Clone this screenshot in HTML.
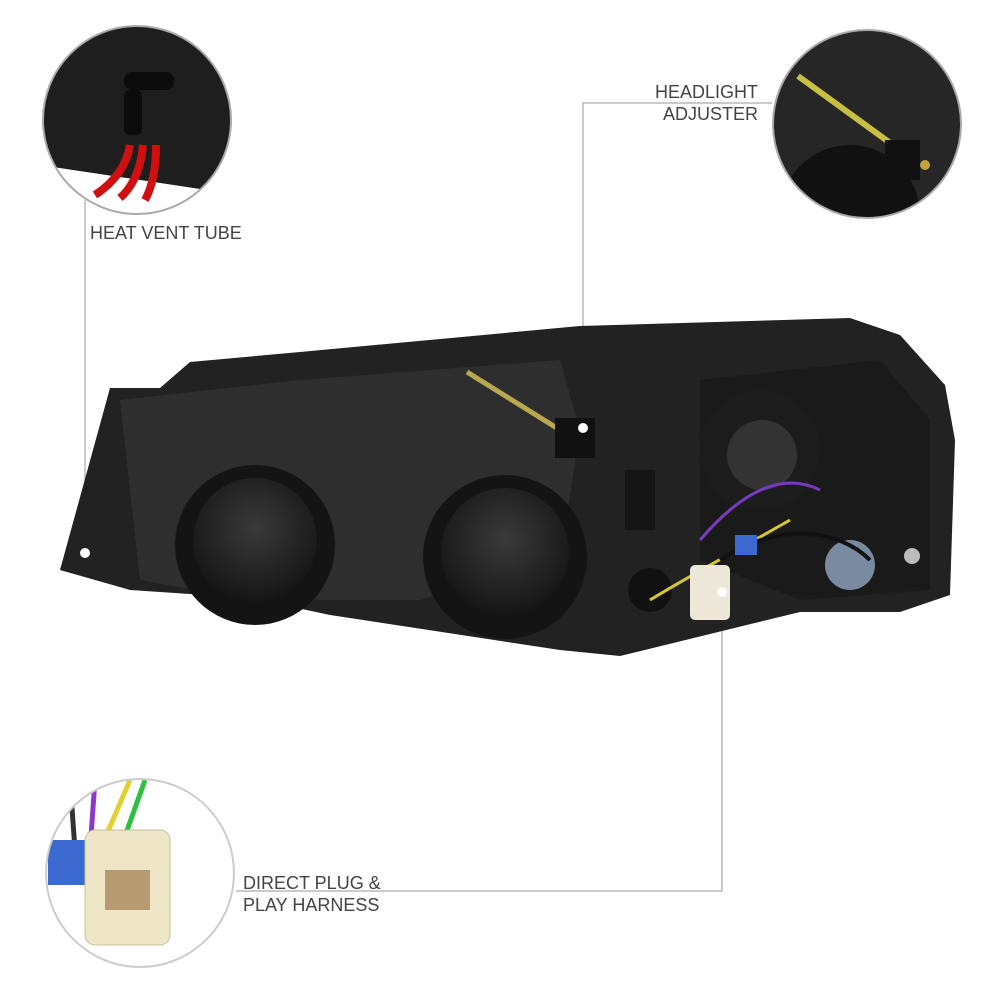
<!DOCTYPE html>
<html><head><meta charset="utf-8"><style>
body{margin:0;background:#fff;width:1000px;height:1000px;overflow:hidden;font-family:"Liberation Sans",sans-serif}
.t{position:absolute;color:#444;font-size:18px;letter-spacing:0;line-height:22px}
</style></head><body>
<svg width="1000" height="1000" style="position:absolute;left:0;top:0">
<defs>
<clipPath id="c1"><circle cx="137" cy="120" r="94"/></clipPath>
<clipPath id="c2"><circle cx="867" cy="124" r="94"/></clipPath>
<clipPath id="c3"><circle cx="140" cy="873" r="94"/></clipPath>
<radialGradient id="g" cx="50%" cy="40%" r="60%"><stop offset="0" stop-color="#3a3a3a"/><stop offset="1" stop-color="#151515"/></radialGradient>
</defs>
<g stroke="#aaa" stroke-width="1.2" fill="none">
<polyline points="85,200 85,553"/>
<polyline points="772,103 583,103 583,428"/>
<polyline points="722,592 722,891 236,891"/>
</g>
<polygon fill="#222" points="60,570 110,388 160,388 190,362 300,352 580,326 850,318 900,335 945,385 955,440 950,595 900,612 800,612 620,656 560,650 330,615 250,598 130,590"/>
<polygon fill="#2e2e2e" points="120,400 300,380 560,360 580,430 560,560 420,600 250,600 140,580"/>
<polygon fill="#1a1a1a" points="700,380 880,360 930,420 930,590 800,600 700,560"/>
<circle cx="255" cy="545" r="80" fill="#141414"/>
<circle cx="255" cy="540" r="62" fill="url(#g)"/>
<circle cx="505" cy="557" r="82" fill="#141414"/>
<circle cx="505" cy="552" r="64" fill="url(#g)"/>
<circle cx="760" cy="450" r="60" fill="#1c1c1c"/>
<circle cx="762" cy="455" r="35" fill="#333"/>
<circle cx="850" cy="565" r="25" fill="#7a8aa0"/>
<circle cx="650" cy="590" r="22" fill="#111"/>
<rect x="625" y="470" width="30" height="60" fill="#151515"/>
<line x1="467" y1="372" x2="560" y2="430" stroke="#b8a850" stroke-width="5"/>
<rect x="555" y="418" width="40" height="40" fill="#111"/>
<path d="M650 600 C700 570 720 560 790 520" stroke="#d8c830" stroke-width="3" fill="none"/>
<path d="M700 540 C760 470 800 480 820 490" stroke="#7a3ac0" stroke-width="3" fill="none"/>
<path d="M720 560 C780 520 840 530 870 560" stroke="#111" stroke-width="4" fill="none"/>
<rect x="690" y="565" width="40" height="55" rx="5" fill="#eee8d8"/>
<rect x="735" y="535" width="22" height="20" fill="#3a6ad0"/>
<circle cx="85" cy="553" r="5" fill="#fff"/><circle cx="583" cy="428" r="5" fill="#fff"/><circle cx="722" cy="592" r="5" fill="#fff"/>
<circle cx="912" cy="556" r="8" fill="#bbb"/>
<g clip-path="url(#c1)">
<rect x="40" y="20" width="200" height="200" fill="#fff"/>
<polygon points="40,20 240,20 240,195 40,165" fill="#1e1e1e"/>
<rect x="124" y="90" width="18" height="45" rx="6" fill="#0c0c0c"/>
<rect x="124" y="72" width="50" height="18" rx="8" fill="#0c0c0c"/>
<path d="M130 145 Q125 175 95 195" stroke="#d01010" stroke-width="8" fill="none"/>
<path d="M143 145 Q140 180 120 198" stroke="#d01010" stroke-width="8" fill="none"/>
<path d="M156 145 Q156 180 145 200" stroke="#d01010" stroke-width="8" fill="none"/>
</g>
<circle cx="137" cy="120" r="94" fill="none" stroke="#aaa" stroke-width="2"/>
<g clip-path="url(#c2)">
<rect x="770" y="28" width="200" height="200" fill="#262626"/>
<circle cx="850" cy="215" r="70" fill="#111"/>
<line x1="798" y1="76" x2="893" y2="145" stroke="#c8c040" stroke-width="6"/>
<rect x="885" y="140" width="35" height="40" fill="#111"/>
<circle cx="925" cy="165" r="5" fill="#c8a040"/>
</g>
<circle cx="867" cy="124" r="94" fill="none" stroke="#aaa" stroke-width="2"/>
<g clip-path="url(#c3)">
<rect x="44" y="778" width="200" height="200" fill="#fff"/>
<path d="M70 780 L75 850" stroke="#333" stroke-width="5"/>
<path d="M95 780 L90 850" stroke="#8a3ac8" stroke-width="5"/>
<path d="M130 780 L100 850" stroke="#e0d030" stroke-width="5"/>
<path d="M145 780 L120 850" stroke="#30c040" stroke-width="5"/>
<rect x="48" y="840" width="45" height="45" fill="#3a6ad0"/>
<rect x="85" y="830" width="85" height="115" rx="10" fill="#efe6c8" stroke="#c9bd98"/>
<rect x="105" y="870" width="45" height="40" fill="#b89a70"/>
</g>
<circle cx="140" cy="873" r="94" fill="none" stroke="#ccc" stroke-width="2"/>
</svg>
<div class="t" style="left:90px;top:222px">HEAT VENT TUBE</div>
<div class="t" style="left:600px;top:81px;width:158px;text-align:right">HEADLIGHT<br>ADJUSTER</div>
<div class="t" style="left:243px;top:872px">DIRECT PLUG &amp;<br>PLAY HARNESS</div>
</body></html>
